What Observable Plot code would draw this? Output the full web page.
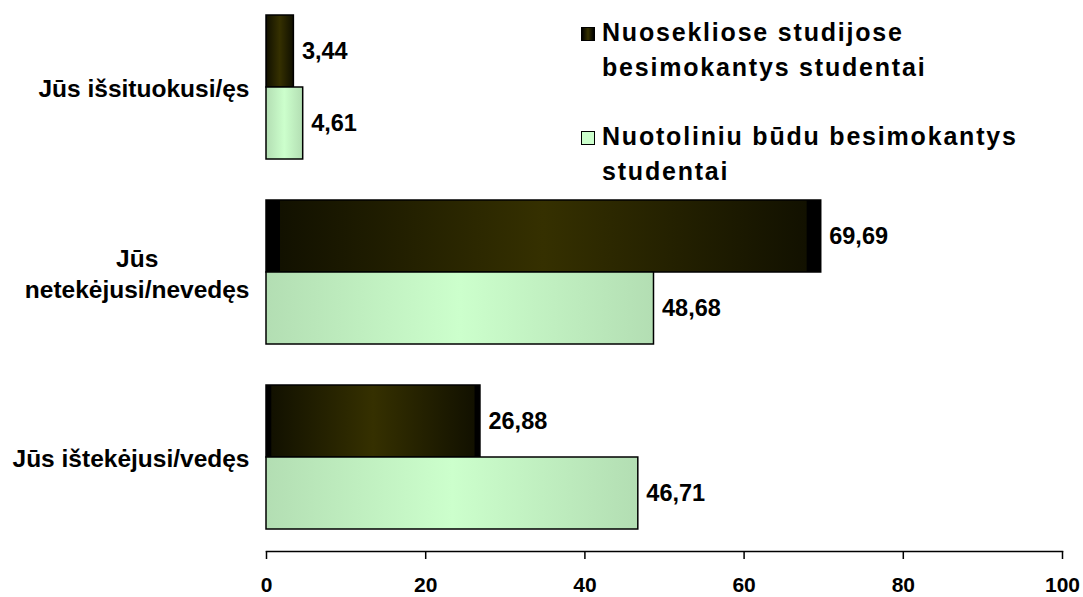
<!DOCTYPE html>
<html>
<head>
<meta charset="utf-8">
<script src="https://cdn.jsdelivr.net/npm/d3@7"></script>
<script src="https://cdn.jsdelivr.net/npm/@observablehq/plot@0.6"></script>
<style>
  html, body { margin: 0; padding: 0; background: #fff; }
  #wrap { position: relative; width: 1083px; height: 597px; font-family: "Liberation Sans", Arial, sans-serif; }
  #legend { position: absolute; left: 581px; top: 0; font-weight: bold; font-size: 25px; letter-spacing: 1.8px; color: #000; }
  .item { position: absolute; left: 0; white-space: nowrap; }
  .sw { position: absolute; left: 0; width: 12px; height: 12px; border: 1.5px solid #000; }
  .txt { position: absolute; left: 21px; line-height: 35px; }
</style>
</head>
<body>
<div id="wrap"></div>
<script>
// ---- data ----
const categories = ["Jūs išsituokusi/ęs", "Jūs\nnetekėjusi/nevedęs", "Jūs ištekėjusi/vedęs"];
const seriesNames = ["Nuosekliose studijose besimokantys studentai", "Nuotoliniu būdu besimokantys studentai"];
const seriesLegendLines = [["Nuosekliose studijose", "besimokantys studentai"], ["Nuotoliniu būdu besimokantys", "studentai"]];
const fullTimeValues = [3.44, 69.69, 26.88];
const distanceValues = [4.61, 48.68, 46.71];
const xTicks = [0, 20, 40, 60, 80, 100];

const fullRows = categories.map((c, i) => ({category: c, series: seriesNames[0], value: fullTimeValues[i]}));
const distRows = categories.map((c, i) => ({category: c, series: seriesNames[1], value: distanceValues[i]}));
const fmt = d => d.value.toFixed(2).replace(".", ",");

function gradientDefs() {
  const defs = d3.create("svg:defs");
  const g1 = defs.append("linearGradient").attr("id", "gDark").attr("x1", 0).attr("x2", 1).attr("y1", 0).attr("y2", 0);
  [[0, "#000"], [0.025, "#000"], [0.026, "#121100"], [0.5, "#353000"], [0.974, "#121100"], [0.975, "#000"], [1, "#000"]]
    .forEach(([o, c]) => g1.append("stop").attr("offset", o).attr("stop-color", c));
  const g2 = defs.append("linearGradient").attr("id", "gLight").attr("x1", 0).attr("x2", 1).attr("y1", 0).attr("y2", 0);
  [[0, "#b3deb3"], [0.5, "#ccffcc"], [1, "#b3deb3"]]
    .forEach(([o, c]) => g2.append("stop").attr("offset", o).attr("stop-color", c));
  return defs.node();
}

const chart = Plot.plot({
  width: 1083,
  height: 597,
  marginLeft: 266,
  marginRight: 21,
  marginTop: 15,
  marginBottom: 46,
  style: {fontFamily: "'Liberation Sans', Arial, sans-serif", fontWeight: "bold", color: "#000", background: "#fff", overflow: "visible"},
  x: {domain: [0, 100]},
  y: {domain: categories, paddingInner: 0.224, paddingOuter: 0.0567, align: 0},
  marks: [
    gradientDefs,
    Plot.barX(fullRows, {x: "value", y: "category", insetBottom: 72, fill: "url(#gDark)", stroke: "#000", strokeWidth: 1.5}),
    Plot.barX(distRows, {x: "value", y: "category", insetTop: 72, fill: "url(#gLight)", stroke: "#000", strokeWidth: 1.5}),
    Plot.text(fullRows, {x: "value", y: "category", dy: -36, dx: 8, text: fmt, textAnchor: "start", fontSize: 23.5, fontWeight: "bold", fill: "#000"}),
    Plot.text(distRows, {x: "value", y: "category", dy: 36, dx: 8, text: fmt, textAnchor: "start", fontSize: 23.5, fontWeight: "bold", fill: "#000"}),
    Plot.frame({anchor: "bottom", stroke: "#000", strokeWidth: 1.5}),
    Plot.axisX({ticks: xTicks, tickSize: 8, tickPadding: 18, fontSize: 21, tickFormat: d => String(d), strokeWidth: 1.5, label: null}),
    Plot.axisY({tickSize: 0, tickPadding: 17, fontSize: 24.5, lineHeight: 1.25, label: null})
  ]
});

document.getElementById("wrap").appendChild(chart);

// center multi-line category labels within their block (as in the reference)
d3.select(chart).selectAll("text").each(function() {
  const spans = this.querySelectorAll("tspan");
  if (spans.length > 1) {
    const w = d3.max(Array.from(spans), s => s.getComputedTextLength());
    spans.forEach(s => { s.setAttribute("text-anchor", "middle"); s.setAttribute("x", -w / 2); });
  }
});

// legend (overlapping the top-right of the plot area, as in the reference)
const legend = d3.select("#wrap").append("div").attr("id", "legend");
const legendTops = [15, 119];
const fills = ["linear-gradient(to right, #000 0%, #353000 50%, #000 100%)", "#ccffcc"];
seriesNames.forEach((name, i) => {
  const item = legend.append("div").attr("class", "item").style("top", legendTops[i] + "px");
  item.append("div").attr("class", "sw").style("top", "12px").style("background", fills[i]);
  item.append("div").attr("class", "txt").html(seriesLegendLines[i].join("<br>"));
});
</script>
</body>
</html>
